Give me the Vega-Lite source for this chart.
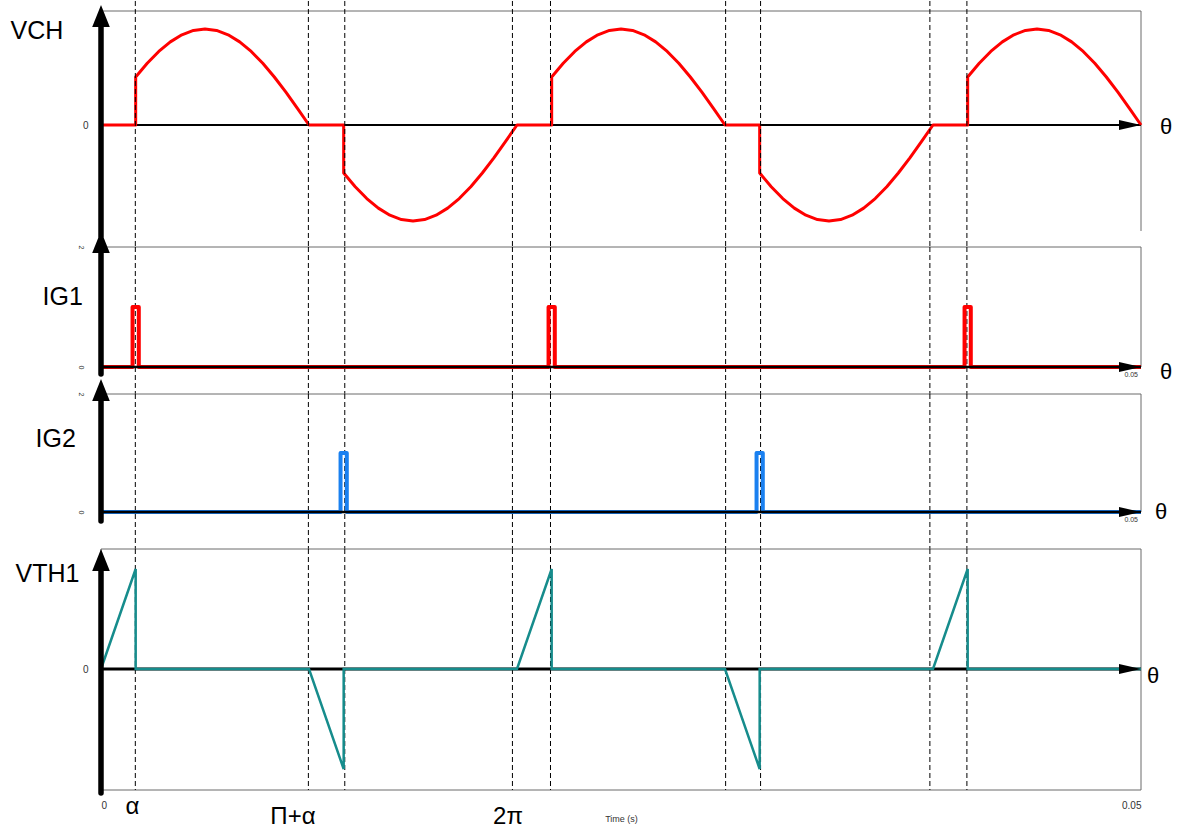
{
  "$schema": "https://vega.github.io/schema/vega-lite/v6.json",
  "padding": {"left": 10, "top": 0, "right": 0, "bottom": 0},
  "config": {"font": "Liberation Sans", "view": {"stroke": null}, "axis": {"grid": false}},
  "spacing": 0,
  "bounds": "flush",
  "datasets": {
    "vch": [
      {"t": 0, "v": 0}, {"t": 0.001667, "v": 0}, {"t": 0.001667, "v": 0.5}, {"t": 0.002222, "v": 0.6428}, {"t": 0.002778, "v": 0.766}, {"t": 0.003333, "v": 0.866}, {"t": 0.003889, "v": 0.9397}, {"t": 0.004444, "v": 0.9848}, {"t": 0.005, "v": 1}, {"t": 0.005556, "v": 0.9848}, {"t": 0.006111, "v": 0.9397}, {"t": 0.006667, "v": 0.866}, {"t": 0.007222, "v": 0.766}, {"t": 0.007778, "v": 0.6428}, {"t": 0.008333, "v": 0.5}, {"t": 0.008889, "v": 0.342}, {"t": 0.009444, "v": 0.1736}, {"t": 0.01, "v": 0},
      {"t": 0.011667, "v": 0}, {"t": 0.011667, "v": -0.5}, {"t": 0.012222, "v": -0.6428}, {"t": 0.012778, "v": -0.766}, {"t": 0.013333, "v": -0.866}, {"t": 0.013889, "v": -0.9397}, {"t": 0.014444, "v": -0.9848}, {"t": 0.015, "v": -1}, {"t": 0.015556, "v": -0.9848}, {"t": 0.016111, "v": -0.9397}, {"t": 0.016667, "v": -0.866}, {"t": 0.017222, "v": -0.766}, {"t": 0.017778, "v": -0.6428}, {"t": 0.018333, "v": -0.5}, {"t": 0.018889, "v": -0.342}, {"t": 0.019444, "v": -0.1736}, {"t": 0.02, "v": 0},
      {"t": 0.021667, "v": 0}, {"t": 0.021667, "v": 0.5}, {"t": 0.022222, "v": 0.6428}, {"t": 0.022778, "v": 0.766}, {"t": 0.023333, "v": 0.866}, {"t": 0.023889, "v": 0.9397}, {"t": 0.024444, "v": 0.9848}, {"t": 0.025, "v": 1}, {"t": 0.025556, "v": 0.9848}, {"t": 0.026111, "v": 0.9397}, {"t": 0.026667, "v": 0.866}, {"t": 0.027222, "v": 0.766}, {"t": 0.027778, "v": 0.6428}, {"t": 0.028333, "v": 0.5}, {"t": 0.028889, "v": 0.342}, {"t": 0.029444, "v": 0.1736}, {"t": 0.03, "v": 0},
      {"t": 0.031667, "v": 0}, {"t": 0.031667, "v": -0.5}, {"t": 0.032222, "v": -0.6428}, {"t": 0.032778, "v": -0.766}, {"t": 0.033333, "v": -0.866}, {"t": 0.033889, "v": -0.9397}, {"t": 0.034444, "v": -0.9848}, {"t": 0.035, "v": -1}, {"t": 0.035556, "v": -0.9848}, {"t": 0.036111, "v": -0.9397}, {"t": 0.036667, "v": -0.866}, {"t": 0.037222, "v": -0.766}, {"t": 0.037778, "v": -0.6428}, {"t": 0.038333, "v": -0.5}, {"t": 0.038889, "v": -0.342}, {"t": 0.039444, "v": -0.1736}, {"t": 0.04, "v": 0},
      {"t": 0.041667, "v": 0}, {"t": 0.041667, "v": 0.5}, {"t": 0.042222, "v": 0.6428}, {"t": 0.042778, "v": 0.766}, {"t": 0.043333, "v": 0.866}, {"t": 0.043889, "v": 0.9397}, {"t": 0.044444, "v": 0.9848}, {"t": 0.045, "v": 1}, {"t": 0.045556, "v": 0.9848}, {"t": 0.046111, "v": 0.9397}, {"t": 0.046667, "v": 0.866}, {"t": 0.047222, "v": 0.766}, {"t": 0.047778, "v": 0.6428}, {"t": 0.048333, "v": 0.5}, {"t": 0.048889, "v": 0.342}, {"t": 0.049444, "v": 0.1736}, {"t": 0.05, "v": 0}
    ],
    "ig1": [
      {"t": 0, "v": 0}, {"t": 0.001517, "v": 0}, {"t": 0.001517, "v": 1}, {"t": 0.001817, "v": 1}, {"t": 0.001817, "v": 0},
      {"t": 0.021517, "v": 0}, {"t": 0.021517, "v": 1}, {"t": 0.021817, "v": 1}, {"t": 0.021817, "v": 0},
      {"t": 0.041517, "v": 0}, {"t": 0.041517, "v": 1}, {"t": 0.041817, "v": 1}, {"t": 0.041817, "v": 0}, {"t": 0.05, "v": 0}
    ],
    "ig2": [
      {"t": 0, "v": 0}, {"t": 0.011517, "v": 0}, {"t": 0.011517, "v": 1}, {"t": 0.011817, "v": 1}, {"t": 0.011817, "v": 0},
      {"t": 0.031517, "v": 0}, {"t": 0.031517, "v": 1}, {"t": 0.031817, "v": 1}, {"t": 0.031817, "v": 0}, {"t": 0.05, "v": 0}
    ],
    "vth1": [
      {"t": 0, "v": 0}, {"t": 0.001667, "v": 1}, {"t": 0.001667, "v": 0}, {"t": 0.01, "v": 0}, {"t": 0.011667, "v": -1}, {"t": 0.011667, "v": 0},
      {"t": 0.02, "v": 0}, {"t": 0.021667, "v": 1}, {"t": 0.021667, "v": 0}, {"t": 0.03, "v": 0}, {"t": 0.031667, "v": -1}, {"t": 0.031667, "v": 0},
      {"t": 0.04, "v": 0}, {"t": 0.041667, "v": 1}, {"t": 0.041667, "v": 0}, {"t": 0.05, "v": 0}
    ],
    "dash": [
      {"t": 0.00165}, {"t": 0.00997}, {"t": 0.01172}, {"t": 0.01978}, {"t": 0.02161}, {"t": 0.03003}, {"t": 0.03171}, {"t": 0.03985}, {"t": 0.04163}
    ],
    "labA": [{"t": 0.00151, "label": "α"}],
    "labB": [{"t": 0.00923, "label": "Π+α"}, {"t": 0.01957, "label": "2π"}]
  },
  "vconcat": [
    {
      "width": 1040, "height": 236,
      "layer": [
        {"data": {"values": [{}]}, "mark": {"type": "rule", "color": "#6b6b6b", "strokeWidth": 1},
         "encoding": {"x": {"datum": 0, "scale": {"domain": [0, 0.05], "nice": false, "zero": false}, "axis": null}, "x2": {"datum": 0.05},
                      "y": {"datum": 1.1875, "scale": {"domain": [-1.2708, 1.1875], "nice": false, "zero": false}}}},
        {"data": {"values": [{}]}, "mark": {"type": "rule", "color": "#6b6b6b", "strokeWidth": 1},
         "encoding": {"x": {"datum": 0.05, "axis": null}, "y": {"datum": -1.104}, "y2": {"datum": 1.1875}}},
        {"data": {"values": [{}]}, "mark": {"type": "rule", "color": "black", "strokeWidth": 2},
         "encoding": {"x": {"datum": 0, "axis": null}, "x2": {"datum": 0.05}, "y": {"datum": 0}}},
        {"data": {"name": "vch"}, "mark": {"type": "line", "color": "#ff0000", "strokeWidth": 3, "strokeJoin": "round"},
         "encoding": {
           "x": {"field": "t", "type": "quantitative", "scale": {"domain": [0, 0.05], "nice": false, "zero": false}, "axis": null},
           "y": {"field": "v", "type": "quantitative", "scale": {"domain": [-1.2708, 1.1875], "nice": false, "zero": false},
                 "axis": {"values": [0], "format": "~g", "domain": false, "ticks": false, "labelFontSize": 10, "labelColor": "#333", "labelPadding": 13,
                          "title": "VCH", "titleAngle": 0, "titleAlign": "left", "titleBaseline": "alphabetic", "titleX": -91, "titleY": 27,
                          "titleFontSize": 25, "titleFontWeight": "normal", "titleColor": "black"}},
           "order": {"value": null}}},
        {"data": {"name": "dash"}, "mark": {"type": "rule", "color": "black", "strokeWidth": 1, "strokeDash": [5, 3]},
         "encoding": {"x": {"field": "t", "type": "quantitative", "axis": null}, "y": {"datum": 1.2917}, "y2": {"datum": -1.2708}}},
        {"data": {"values": [{}]}, "mark": {"type": "point", "shape": "M-2,-0.45L0,0L-2,0.45Z", "filled": true, "color": "black", "opacity": 1, "size": 484},
         "encoding": {"x": {"datum": 0.05, "axis": null}, "y": {"datum": 0}}},
        {"data": {"values": [{}]}, "mark": {"type": "rule", "color": "black", "strokeWidth": 5.5, "strokeCap": "round"},
         "encoding": {"x": {"datum": 0, "axis": null}, "y": {"datum": -1.156}, "y2": {"datum": 1.1}}},
        {"data": {"values": [{}]}, "mark": {"type": "point", "shape": "M0,0L0.8,2L-0.8,2Z", "filled": true, "color": "black", "opacity": 1, "size": 484},
         "encoding": {"x": {"datum": 0, "axis": null}, "y": {"datum": 1.25}}},
        {"data": {"values": [{}]}, "mark": {"type": "text", "text": "θ", "fontSize": 22, "align": "left", "baseline": "middle", "dx": 19, "dy": 2, "color": "black"},
         "encoding": {"x": {"datum": 0.05, "axis": null}, "y": {"datum": 0}}}
      ]
    },
    {
      "width": 1040, "height": 147,
      "layer": [
        {"data": {"values": [{}]}, "mark": {"type": "rect", "fill": "transparent", "stroke": "#6b6b6b", "strokeWidth": 1},
         "encoding": {"x": {"datum": 0, "scale": {"domain": [0, 0.05], "nice": false, "zero": false}, "axis": null}, "x2": {"datum": 0.05},
                      "y": {"datum": 0, "scale": {"domain": [-0.45, 2], "nice": false, "zero": false}}, "y2": {"datum": 2}}},
        {"data": {"name": "dash"}, "mark": {"type": "rule", "color": "black", "strokeWidth": 1, "strokeDash": [5, 3]},
         "encoding": {"x": {"field": "t", "type": "quantitative", "axis": null}, "y": {"datum": 2}, "y2": {"datum": -0.45}}},
        {"data": {"name": "ig1"}, "mark": {"type": "line", "color": "#ff0000", "strokeWidth": 4, "strokeJoin": "round"},
         "encoding": {
           "x": {"field": "t", "type": "quantitative", "scale": {"domain": [0, 0.05], "nice": false, "zero": false}, "axis": null},
           "y": {"field": "v", "type": "quantitative", "scale": {"domain": [-0.45, 2], "nice": false, "zero": false},
                 "axis": {"values": [0, 2], "format": "~g", "domain": false, "ticks": false, "labelFontSize": 7, "labelAngle": 90, "labelColor": "#333", "labelPadding": 17,
                          "title": "IG1", "titleAngle": 0, "titleAlign": "left", "titleBaseline": "alphabetic", "titleX": -59, "titleY": 57,
                          "titleFontSize": 25, "titleFontWeight": "normal", "titleColor": "black"}},
           "order": {"value": null}}},
        {"data": {"values": [{}]}, "mark": {"type": "rule", "color": "black", "strokeWidth": 2.5},
         "encoding": {"x": {"datum": 0, "axis": null}, "x2": {"datum": 0.05}, "y": {"datum": 0}}},
        {"data": {"values": [{}]}, "mark": {"type": "point", "shape": "M-2,-0.45L0,0L-2,0.45Z", "filled": true, "color": "black", "opacity": 1, "size": 484},
         "encoding": {"x": {"datum": 0.05, "axis": null}, "y": {"datum": 0}}},
        {"data": {"values": [{}]}, "mark": {"type": "rule", "color": "black", "strokeWidth": 5.5, "strokeCap": "round"},
         "encoding": {"x": {"datum": 0, "axis": null}, "y": {"datum": -0.117}, "y2": {"datum": 1.95}}},
        {"data": {"values": [{}]}, "mark": {"type": "point", "shape": "M0,0L0.8,2L-0.8,2Z", "filled": true, "color": "black", "opacity": 1, "size": 484},
         "encoding": {"x": {"datum": 0, "axis": null}, "y": {"datum": 2.267}}},
        {"data": {"values": [{}]}, "mark": {"type": "text", "text": "θ", "fontSize": 22, "align": "left", "baseline": "middle", "dx": 19, "dy": 5, "color": "black"},
         "encoding": {"x": {"datum": 0.05, "axis": null}, "y": {"datum": 0}}},
        {"data": {"values": [{}]}, "mark": {"type": "text", "text": "0.05", "fontSize": 7, "align": "right", "baseline": "top", "dx": -3, "dy": 4, "color": "#333"},
         "encoding": {"x": {"datum": 0.05, "axis": null}, "y": {"datum": 0}}}
      ]
    },
    {
      "width": 1040, "height": 155,
      "layer": [
        {"data": {"values": [{}]}, "mark": {"type": "rect", "fill": "transparent", "stroke": "#6b6b6b", "strokeWidth": 1},
         "encoding": {"x": {"datum": 0, "scale": {"domain": [0, 0.05], "nice": false, "zero": false}, "axis": null}, "x2": {"datum": 0.05},
                      "y": {"datum": 0, "scale": {"domain": [-0.627, 2], "nice": false, "zero": false}}, "y2": {"datum": 2}}},
        {"data": {"name": "dash"}, "mark": {"type": "rule", "color": "black", "strokeWidth": 1, "strokeDash": [5, 3]},
         "encoding": {"x": {"field": "t", "type": "quantitative", "axis": null}, "y": {"datum": 2}, "y2": {"datum": -0.627}}},
        {"data": {"name": "ig2"}, "mark": {"type": "line", "color": "#1a80f0", "strokeWidth": 4, "strokeJoin": "round"},
         "encoding": {
           "x": {"field": "t", "type": "quantitative", "scale": {"domain": [0, 0.05], "nice": false, "zero": false}, "axis": null},
           "y": {"field": "v", "type": "quantitative", "scale": {"domain": [-0.627, 2], "nice": false, "zero": false},
                 "axis": {"values": [0, 2], "format": "~g", "domain": false, "ticks": false, "labelFontSize": 7, "labelAngle": 90, "labelColor": "#333", "labelPadding": 17,
                          "title": "IG2", "titleAngle": 0, "titleAlign": "left", "titleBaseline": "alphabetic", "titleX": -66, "titleY": 52,
                          "titleFontSize": 25, "titleFontWeight": "normal", "titleColor": "black"}},
           "order": {"value": null}}},
        {"data": {"values": [{}]}, "mark": {"type": "rule", "color": "black", "strokeWidth": 2.5},
         "encoding": {"x": {"datum": 0, "axis": null}, "x2": {"datum": 0.05}, "y": {"datum": 0}}},
        {"data": {"values": [{}]}, "mark": {"type": "text", "text": "0.05", "fontSize": 7, "align": "right", "baseline": "top", "dx": -3, "dy": 4, "color": "#333"},
         "encoding": {"x": {"datum": 0.05, "axis": null}, "y": {"datum": 0}}},
        {"data": {"values": [{}]}, "mark": {"type": "point", "shape": "M-2,-0.45L0,0L-2,0.45Z", "filled": true, "color": "black", "opacity": 1, "size": 484},
         "encoding": {"x": {"datum": 0.05, "axis": null}, "y": {"datum": 0}}},
        {"data": {"values": [{}]}, "mark": {"type": "rule", "color": "black", "strokeWidth": 5.5, "strokeCap": "round"},
         "encoding": {"x": {"datum": 0, "axis": null}, "y": {"datum": -0.153}, "y2": {"datum": 1.95}}},
        {"data": {"values": [{}]}, "mark": {"type": "point", "shape": "M0,0L0.8,2L-0.8,2Z", "filled": true, "color": "black", "opacity": 1, "size": 484},
         "encoding": {"x": {"datum": 0, "axis": null}, "y": {"datum": 2.254}}},
        {"data": {"values": [{}]}, "mark": {"type": "text", "text": "θ", "fontSize": 22, "align": "left", "baseline": "middle", "dx": 14, "dy": 0, "color": "black"},
         "encoding": {"x": {"datum": 0.05, "axis": null}, "y": {"datum": 0}}}
      ]
    },
    {
      "width": 1040, "height": 241,
      "layer": [
        {"data": {"values": [{}]}, "mark": {"type": "rect", "fill": "transparent", "stroke": "#6b6b6b", "strokeWidth": 1},
         "encoding": {"x": {"datum": 0, "scale": {"domain": [0, 0.05], "nice": false, "zero": false}}, "x2": {"datum": 0.05},
                      "y": {"datum": -1.21, "scale": {"domain": [-1.21, 1.2], "nice": false, "zero": false}}, "y2": {"datum": 1.2}}},
        {"data": {"name": "dash"}, "mark": {"type": "rule", "color": "black", "strokeWidth": 1, "strokeDash": [5, 3]},
         "encoding": {"x": {"field": "t", "type": "quantitative"}, "y": {"datum": 1.2}, "y2": {"datum": -1.21}}},
        {"data": {"values": [{}]}, "mark": {"type": "rule", "color": "black", "strokeWidth": 3},
         "encoding": {"x": {"datum": 0}, "x2": {"datum": 0.05}, "y": {"datum": 0}}},
        {"data": {"name": "vth1"}, "mark": {"type": "line", "color": "#168c8c", "strokeWidth": 2.5, "strokeJoin": "miter"},
         "encoding": {
           "x": {"field": "t", "type": "quantitative", "scale": {"domain": [0, 0.05], "nice": false, "zero": false},
                 "axis": {"values": [0, 0.05], "labelExpr": "datum.value == 0 ? '0' : '0.05'", "domain": false, "ticks": false, "labelFlush": true,
                          "labelFontSize": 10, "labelColor": "#333", "labelPadding": 10,
                          "title": "Time (s)", "titleFontSize": 9, "titleFontWeight": "normal", "titlePadding": 4, "titleColor": "#333"}},
           "y": {"field": "v", "type": "quantitative", "scale": {"domain": [-1.21, 1.2], "nice": false, "zero": false},
                 "axis": {"values": [0], "format": "~g", "domain": false, "ticks": false, "labelFontSize": 10, "labelColor": "#333", "labelPadding": 13,
                          "title": "VTH1", "titleAngle": 0, "titleAlign": "left", "titleBaseline": "alphabetic", "titleX": -86, "titleY": 32,
                          "titleFontSize": 25, "titleFontWeight": "normal", "titleColor": "black"}},
           "order": {"value": null}}},
        {"data": {"values": [{}]}, "mark": {"type": "point", "shape": "M-2,-0.45L0,0L-2,0.45Z", "filled": true, "color": "black", "opacity": 1, "size": 484},
         "encoding": {"x": {"datum": 0.05}, "y": {"datum": 0}}},
        {"data": {"values": [{}]}, "mark": {"type": "rule", "color": "black", "strokeWidth": 5.5, "strokeCap": "round"},
         "encoding": {"x": {"datum": 0}, "y": {"datum": -1.24}, "y2": {"datum": 1.0}}},
        {"data": {"values": [{}]}, "mark": {"type": "point", "shape": "M0,0L0.8,2L-0.8,2Z", "filled": true, "color": "black", "opacity": 1, "size": 484},
         "encoding": {"x": {"datum": 0}, "y": {"datum": 1.2}}},
        {"data": {"values": [{}]}, "mark": {"type": "text", "text": "θ", "fontSize": 22, "align": "left", "baseline": "middle", "dx": 6, "dy": 7, "color": "black"},
         "encoding": {"x": {"datum": 0.05}, "y": {"datum": 0}}},
        {"data": {"name": "labA"}, "mark": {"type": "text", "fontSize": 24, "align": "center", "baseline": "alphabetic", "color": "black"},
         "encoding": {"x": {"field": "t", "type": "quantitative"}, "y": {"datum": -1.45}, "text": {"field": "label"}}},
        {"data": {"name": "labB"}, "mark": {"type": "text", "fontSize": 24, "align": "center", "baseline": "alphabetic", "color": "black"},
         "encoding": {"x": {"field": "t", "type": "quantitative"}, "y": {"datum": -1.55}, "text": {"field": "label"}}}
      ]
    }
  ]
}
